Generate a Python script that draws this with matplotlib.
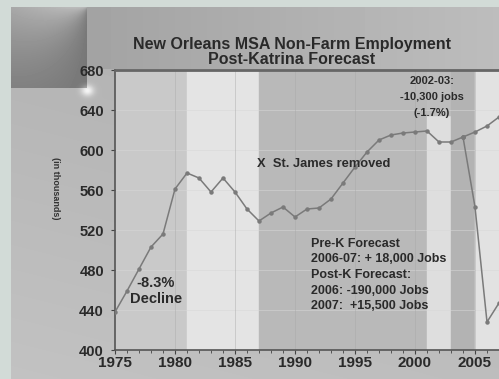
import numpy as np
import matplotlib
matplotlib.use("Agg")
import matplotlib.pyplot as plt
from matplotlib.ticker import MultipleLocator

plt.rcParams['font.family'] = ['Liberation Sans', 'DejaVu Sans']

# Non-farm employment, thousands of jobs
hist_years = list(range(1975, 2005))
hist_jobs = [438, 459, 481, 503, 516, 561, 577, 572, 558, 572,
             558, 541, 529, 537, 543, 533, 541, 542, 551, 567,
             583, 598, 610, 615, 617, 618, 619, 608, 608, 613]
prek_years = [2004, 2005, 2006, 2007]
prek_jobs = [613, 618, 624, 633]
postk_years = [2004, 2005, 2006, 2007]
postk_jobs = [613, 543, 428, 447]

x_ticks = [1975, 1980, 1985, 1990, 1995, 2000, 2005]
y_ticks = [400, 440, 480, 520, 560, 600, 640, 680]

W, H = 499, 379
fig = plt.figure(figsize=(W / 100, H / 100), dpi=100)
fig.patch.set_facecolor('#d2dbd7')

# slide backdrop with a shaded gradient
bg = fig.add_axes([11 / W, 0, 1 - 11 / W, 1 - 7 / H])
bg.set_axis_off()
ny, nx = 372, 488
yy, xx = np.mgrid[0:ny, 0:nx].astype(float)
base = 0.70 + 0.06 * (yy / ny) - 0.02 * (xx / nx)
band = yy < 62
base = np.where(band, 0.62 + 0.12 * (xx / nx), base)
corner = (xx < 76) & (yy < 81)
ang = np.arctan2(yy + 1, 76 - xx + 1)
cval = 0.36 + 0.30 * (1 - ang / (np.pi / 2)) + 0.10 * (xx / 76)
base = np.where(corner, cval, base)
glint = np.exp(-(((xx - 76) ** 2) / 40 + ((yy - 83) ** 2) / 30))
base = np.clip(base + 0.25 * glint, 0, 1)
bg.imshow(base, cmap='gray', vmin=0, vmax=1, aspect='auto',
          extent=[0, 1, 0, 1], origin='upper')
bg.set_xlim(0, 1)
bg.set_ylim(0, 1)

ax = fig.add_axes([115 / W, 29 / H, 384 / W, 280 / H])
ax.set_facecolor('#c2c2c2')
ax.set_xlim(1975, 2007)
ax.set_ylim(400, 680)

# period shading
ax.axvspan(1975, 1981, color='#c9c9c9', zorder=0)
ax.axvspan(1981, 1987, color='#e4e4e4', zorder=0)
ax.axvspan(1987, 2001, color='#b9b9b9', zorder=0)
ax.axvspan(2001, 2003, ymax=0.84, color='#dedede', zorder=0)
ax.axvspan(2001, 2003, ymin=0.84, color='#bdbdbd', zorder=0)
ax.axvspan(2003, 2005, color='#b3b3b3', zorder=0)
ax.axvspan(2005, 2007, color='#e2e2e2', zorder=0)

for y in y_ticks[1:-1]:
    ax.axhline(y, color='#d8d8d8', lw=0.6, alpha=0.6, zorder=1)
for x in x_ticks[1:]:
    ax.axvline(x, color='#a8a8a8', lw=0.6, alpha=0.5, zorder=1)

line_kw = dict(color='#7a7a7a', lw=1.1, marker='o', ms=2.2, zorder=3)
ax.plot(hist_years, hist_jobs, **line_kw)
ax.plot(prek_years, prek_jobs, **line_kw)
ax.plot(postk_years, postk_jobs, **line_kw)

ax.set_xticks(x_ticks)
ax.set_yticks(y_ticks)
ax.xaxis.set_minor_locator(MultipleLocator(1))
ax.tick_params(axis='both', which='major', length=3, width=0.8,
               color='#444444', labelcolor='#2a2a2a')
ax.tick_params(axis='x', labelsize=11, pad=1)
ax.tick_params(axis='y', labelsize=10.5, pad=5)
ax.tick_params(axis='x', which='minor', length=2, width=0.6, color='#444444')
for lab in ax.get_xticklabels() + ax.get_yticklabels():
    lab.set_fontweight('bold')

for s in ['left', 'bottom']:
    ax.spines[s].set_color('#555555')
    ax.spines[s].set_linewidth(1.2)
ax.spines['top'].set_color('#666666')
ax.spines['top'].set_linewidth(2)
ax.spines['right'].set_visible(False)

fig.text(55 / W, 1 - 188 / H, '(in thousands)', rotation=270, ha='center',
         va='center', fontsize=6.5, fontweight='bold', color='#333333')

fig.text(292 / W, 1 - 44 / H, 'New Orleans MSA Non-Farm Employment',
         ha='center', va='center', fontsize=11.5, fontweight='bold', color='#2a2a2a')
fig.text(292 / W, 1 - 60 / H, 'Post-Katrina Forecast',
         ha='center', va='center', fontsize=11.5, fontweight='bold', color='#2a2a2a')

ax.text(1986.8, 586, 'X  St. James removed', ha='left', va='center',
        fontsize=9.3, fontweight='bold', color='#2a2a2a', zorder=4)
ax.text(2001.4, 653, '2002-03:\n-10,300 jobs\n(-1.7%)', ha='center', va='center',
        fontsize=8, fontweight='bold', color='#2a2a2a', linespacing=1.75, zorder=4)
ax.text(1978.4, 459, '-8.3%\nDecline', ha='center', va='center',
        fontsize=10.5, fontweight='bold', color='#2a2a2a', linespacing=1.15, zorder=4)
ax.text(1991.3, 475, 'Pre-K Forecast\n2006-07: + 18,000 Jobs\nPost-K Forecast:\n'
        '2006: -190,000 Jobs\n2007:  +15,500 Jobs', ha='left', va='center',
        fontsize=9, fontweight='bold', color='#2a2a2a', linespacing=1.4, zorder=4)

fig.savefig('out.png', dpi=100, facecolor=fig.get_facecolor())
